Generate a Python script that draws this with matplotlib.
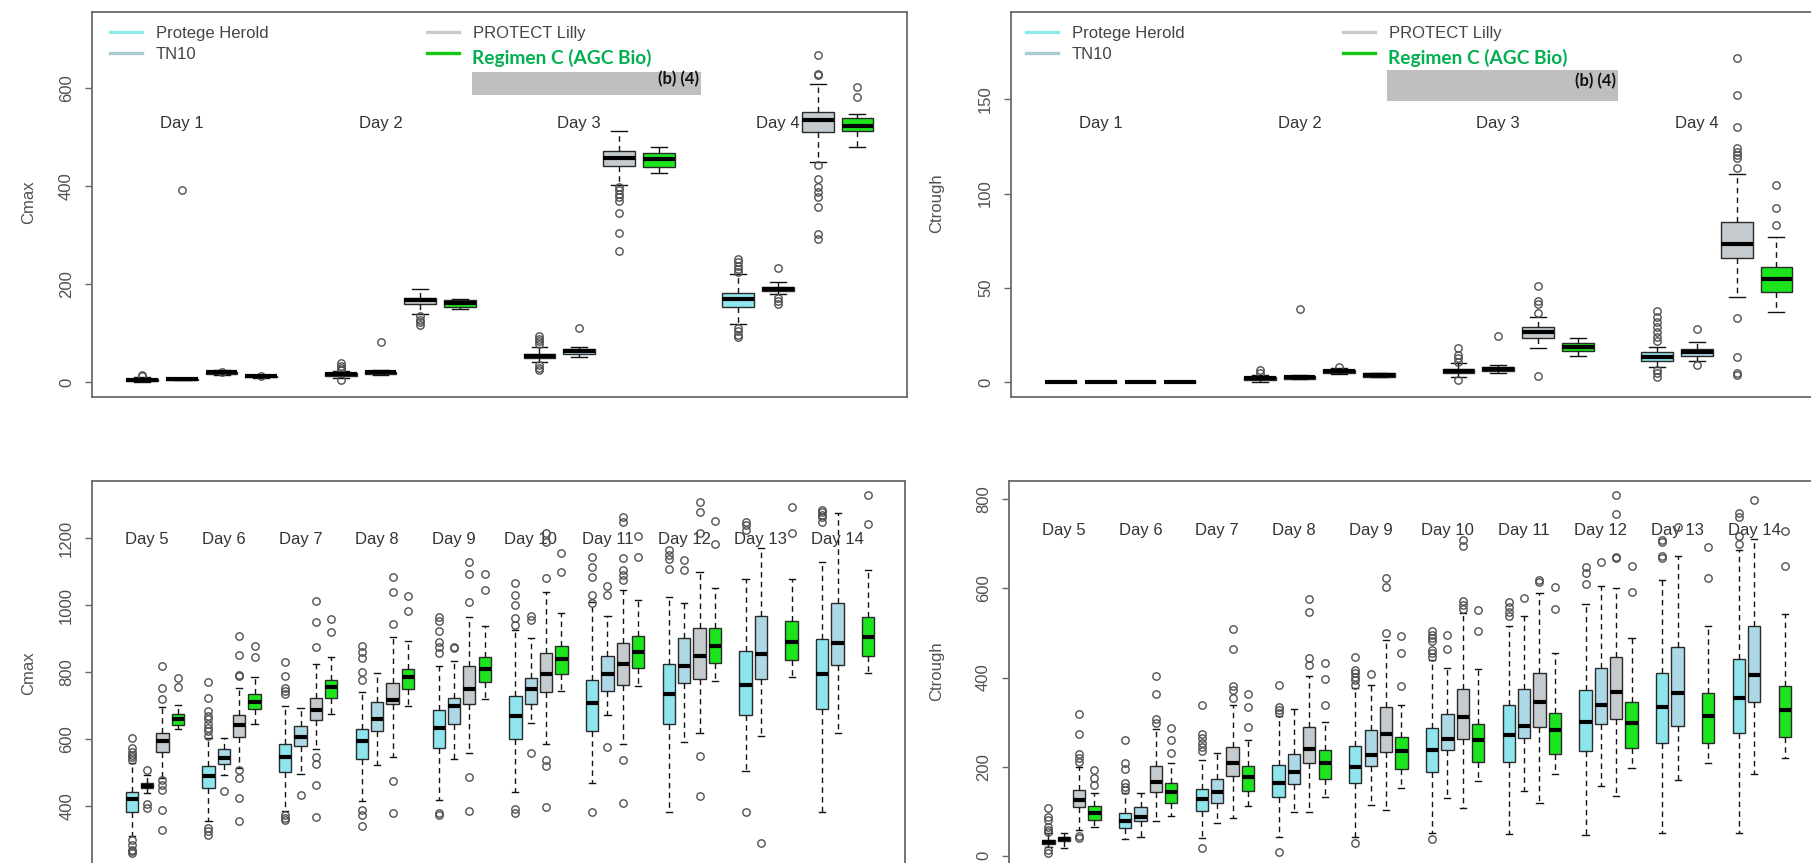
import matplotlib
matplotlib.use("Agg")
import matplotlib.pyplot as plt
from matplotlib.lines import Line2D
from matplotlib.patches import Rectangle

plt.rcParams['font.family'] = ['Liberation Sans', 'DejaVu Sans']

W, H = 1811, 863

# ---------------- data ----------------
groups = ["Protege Herold", "TN10", "PROTECT Lilly", "Regimen C (AGC Bio)"]
box_colors = ["#8ee5ee", "#add8e6", "#c4cacd", "#1de51d"]
legend_colors = ["#8fe9ea", "#aacbd3", "#cacaca", "#12c812"]

top_days = ["Day 1", "Day 2", "Day 3", "Day 4"]
bottom_days = ["Day 5", "Day 6", "Day 7", "Day 8", "Day 9",
               "Day 10", "Day 11", "Day 12", "Day 13", "Day 14"]

# each entry: (lower whisker, Q1, median, Q3, upper whisker); None = no box
# ---- Cmax, Days 1-4 ----
cmax_top_protege = [(1, 3, 5, 7, 10), (8, 13, 16, 18, 23), (41, 49, 54, 58, 73), (118, 154, 169, 183, 222)]
cmax_top_protege_out = [[12, 15], [39, 34, 29, 26, 5], [94, 89, 84, 78, 36, 30, 25],
                        [252, 245, 238, 231, 226, 111, 104, 97, 92]]
cmax_top_tn10 = [(4, 5, 6, 7, 8), (14, 16, 20, 22, 25), (51, 58, 63, 67, 73), (180, 186, 191, 195, 204)]
cmax_top_tn10_out = [[392], [83], [111], [234, 173, 166, 159]]
cmax_top_lilly = [(15, 17, 20, 22, 25), (140, 159, 167, 172, 190), (402, 441, 457, 472, 512), (449, 510, 536, 552, 609)]
cmax_top_lilly_out = [[21], [135, 128, 123, 116], [399, 392, 385, 378, 371, 345, 304, 267],
                      [668, 630, 627, 443, 414, 399, 389, 378, 358, 303, 293]]
cmax_top_regc = [(9, 10, 12, 13, 15), (150, 154, 161, 168, 171), (428, 440, 455, 467, 480), (481, 512, 524, 539, 547)]
cmax_top_regc_out = [[12], [], [], [603, 582]]

# ---- Ctrough, Days 1-4 ----
ctr_top_protege = [(0, 0, 0, 0, 0), (0.4, 1.2, 2.1, 3.0, 4.0), (3.0, 4.7, 6.0, 7.0, 10.0), (8.3, 11.5, 13.6, 15.9, 18.9)]
ctr_top_protege_out = [[], [6.5, 4.8], [18, 14.5, 12.7, 11, 1.2],
                       [37.8, 34.8, 32.2, 29.5, 26.8, 24.2, 21.9, 6.5, 4.7, 3.0]]
ctr_top_tn10 = [(0, 0, 0, 0, 0), (1.8, 2.0, 2.6, 3.4, 3.8), (4.7, 6.0, 7.0, 8.0, 9.2), (11.3, 14.1, 15.9, 17.6, 21.2)]
ctr_top_tn10_out = [[], [38.9], [24.5], [28.1, 9.2]]
ctr_top_lilly = [(0, 0, 0, 0, 0), (4.4, 5.1, 6.0, 6.5, 7.5), (18.4, 23.7, 26.8, 29.5, 34.8), (45.4, 65.7, 73.3, 85.1, 110.2)]
ctr_top_lilly_out = [[], [8.3], [51, 43, 41.3, 36.9, 3.5],
                     [172, 152.3, 135.5, 124, 122.3, 120.5, 118.7, 113.4, 33.9, 13.2, 4.7, 3.9]]
ctr_top_regc = [(0, 0, 0, 0, 0), (2.8, 3.0, 3.9, 4.8, 5.0), (14.1, 16.8, 18.9, 20.7, 23.3), (37.4, 47.7, 54.6, 61.3, 76.8)]
ctr_top_regc_out = [[], [], [], [104.6, 92.6, 83.4]]

# ---- Cmax, Days 5-14 ----
cmax_bot_protege = [(310, 383, 420, 443, 529), (354, 454, 489, 519, 604), (384, 501, 547, 584, 699),
                    (416, 539, 594, 631, 742), (419, 572, 632, 686, 819), (443, 599, 669, 729, 925),
                    (470, 625, 707, 777, 1011), (383, 644, 734, 823, 1025), (506, 672, 762, 863, 1077),
                    (383, 689, 793, 898, 1130)]
cmax_bot_protege_out = [[602, 572, 562, 552, 547, 537, 299, 284, 269, 264, 259],
                        [772, 724, 684, 669, 659, 644, 634, 624, 609, 334, 324, 314],
                        [829, 789, 754, 744, 734, 374, 364, 359],
                        [879, 859, 842, 799, 776, 389, 374, 339],
                        [966, 954, 924, 889, 874, 856, 379, 374],
                        [1065, 1030, 1000, 961, 941, 390, 378],
                        [1145, 1115, 1085, 1030, 1008, 383],
                        [1165, 1150, 1137, 1108],
                        [1250, 1240, 1225, 383],
                        [1286, 1279, 1271, 1264, 1250]]
cmax_bot_tn10 = [(439, 454, 461, 469, 492), (494, 524, 544, 569, 604), (496, 579, 607, 639, 694),
                 (521, 624, 659, 711, 797), (539, 644, 699, 724, 832), (649, 704, 750, 782, 901),
                 (672, 745, 793, 848, 968), (592, 767, 819, 901, 1006), (609, 780, 853, 969, 1170),
                 (617, 821, 888, 1006, 1275)]
cmax_bot_tn10_out = [[509, 407, 394], [444], [434], [], [876, 871], [969, 956, 559],
                     [1057, 1030, 577], [1135, 1105], [290], []]
cmax_bot_lilly = [(484, 562, 594, 619, 696), (514, 607, 642, 672, 754), (569, 656, 686, 722, 824),
                  (546, 706, 718, 769, 904), (559, 706, 751, 817, 966), (584, 741, 793, 858, 1040),
                  (585, 762, 823, 886, 1045), (617, 779, 848, 931, 1100), None, None]
cmax_bot_lilly_out = [[819, 754, 721, 479, 464, 449, 389, 329],
                      [907, 852, 792, 789, 509, 484, 424, 354],
                      [1014, 951, 874, 547, 524, 462, 366],
                      [1084, 1039, 944, 474, 379],
                      [1129, 1094, 1011, 486, 386],
                      [1215, 1190, 1080, 538, 518, 398],
                      [1264, 1250, 1142, 1105, 1090, 1075, 538, 408],
                      [1309, 1279, 1215, 550, 430], [], []]
cmax_bot_regc = [(629, 641, 659, 676, 701), (644, 689, 712, 734, 784), (674, 722, 756, 776, 846),
                 (698, 749, 786, 808, 894), (719, 772, 809, 846, 937), (745, 795, 839, 879, 978),
                 (759, 811, 861, 909, 1016), (775, 826, 879, 931, 1050), (785, 836, 891, 953, 1078),
                 (796, 849, 904, 966, 1105)]
cmax_bot_regc_out = [[782, 756], [879, 844], [959, 919], [1029, 984], [1094, 1044], [1155, 1098],
                     [1207, 1143], [1253, 1183], [1294, 1217], [1329, 1243]]

# ---- Ctrough, Days 5-14 ----
ctr_bot_protege = [(20, 26.5, 30, 35.5, 50), (37, 62, 78, 95, 140), (39, 101, 127, 150, 215),
                   (43, 131, 164, 204, 314), (43, 163, 200, 247, 376), (50, 187, 237, 286, 439),
                   (48, 211, 271, 338, 516), (47, 234, 301, 372, 564), (50, 254, 333, 410, 620),
                   (50, 276, 355, 442, 686)]
ctr_bot_protege_out = [[107, 88, 80, 65, 58, 54, 13, 7],
                       [260, 209, 194, 163, 155, 148],
                       [338, 273, 264, 252, 245, 235, 17],
                       [383, 333, 327, 321, 9],
                       [447, 417, 410, 402, 395, 383, 28],
                       [505, 496, 488, 481, 462, 454, 447, 37],
                       [570, 559, 548, 537],
                       [649, 634, 611],
                       [709, 705, 673, 668],
                       [769, 761, 718, 700]]
ctr_bot_tn10 = [(18, 34, 38, 43, 52), (43, 79, 88, 109, 140), (74, 119, 144, 172, 230),
                (99, 161, 187, 229, 329), (114, 202, 225, 282, 383), (129, 237, 261, 318, 421),
                (145, 265, 291, 374, 537), (157, 295, 338, 421, 606), (170, 292, 366, 469, 673),
                (183, 346, 406, 516, 712)]
ctr_bot_tn10_out = [[], [], [], [], [408], [496, 463], [579], [659], [737], [798]]
ctr_bot_lilly = [(58, 109, 125, 148, 200), (77, 144, 166, 202, 284), (84, 179, 208, 245, 338),
                 (99, 208, 239, 288, 404), (103, 232, 273, 333, 484), (107, 261, 312, 374, 544),
                 (118, 288, 344, 411, 589), (134, 307, 367, 445, 600), None, None]
ctr_bot_lilly_out = [[318, 273, 228, 219, 211, 45, 39], [404, 362, 306, 299],
                     [508, 464, 381, 372, 355], [576, 546, 443, 428], [623, 604, 501],
                     [709, 695, 572, 563, 553], [620, 615], [810, 767, 671, 668], [], []]
ctr_bot_regc = [(64, 80, 95, 112, 140), (89, 119, 142, 163, 208), (112, 146, 176, 202, 260),
                (131, 172, 208, 237, 301), (151, 194, 234, 267, 338), (168, 211, 260, 295, 419),
                (184, 229, 282, 320, 454), (198, 241, 299, 346, 488), (208, 254, 314, 365, 516),
                (219, 267, 326, 381, 542)]
ctr_bot_regc_out = [[193, 174, 159], [286, 260, 230], [363, 333, 290], [432, 397, 338],
                    [494, 454, 381], [552, 505], [604, 553], [650, 591], [692, 624], [729, 650]]


# ---------------- helpers ----------------
def ax_rect(x0, y0, x1, y1):
    return [x0 / W, 1 - y1 / H, (x1 - x0) / W, (y1 - y0) / H]


def fx(x):
    return x / W


def fy(y):
    return 1 - y / H


def draw_panel(ax, days, series, outs, xlim, ylim, yticks, day_y, ylabel, ylab_x, ylab_y):
    for g, (vals, fl) in enumerate(zip(series, outs)):
        stats, pos = [], []
        for d, v in enumerate(vals):
            if v is None:
                continue
            lo, q1, med, q3, hi = v
            stats.append(dict(whislo=lo, q1=q1, med=med, q3=q3, whishi=hi, fliers=fl[d]))
            pos.append(5 * d + g + 1)
        ax.bxp(stats, positions=pos, widths=0.8, capwidths=0.4, patch_artist=True,
               manage_ticks=False,
               boxprops=dict(edgecolor="#2a2a2a", linewidth=1.0, facecolor=box_colors[g]),
               medianprops=dict(color="black", linewidth=3, solid_capstyle="butt"),
               whiskerprops=dict(color="#111111", linewidth=1.0, linestyle=(0, (4, 3))),
               capprops=dict(color="#111111", linewidth=1.0),
               flierprops=dict(marker="o", markerfacecolor="none", markeredgecolor="#505050",
                               markersize=5.3, markeredgewidth=1.0))
    for d, lab in enumerate(days):
        ax.text(5 * d + 2, day_y, lab, ha="center", va="center", fontsize=12, color="#333333",
                zorder=1)
    ax.set_xlim(*xlim)
    ax.set_ylim(*ylim)
    ax.set_xticks([])
    ax.set_yticks(yticks)
    ax.set_yticklabels([str(t) for t in yticks], rotation=90, va="center")
    ax.tick_params(axis="y", direction="out", length=5, width=1, colors="#666666",
                   labelcolor="#505050", labelsize=12, pad=8)
    for s in ax.spines.values():
        s.set_color("#6a6a6a")
        s.set_linewidth(1.3)
    ax.figure.text(fx(ylab_x), fy(ylab_y), ylabel, rotation=90, ha="center", va="center",
                   fontsize=12, color="#505050")


def draw_legend(fig, x0, rect_x0, rect_x1, rect_y0, rect_y1):
    col2 = x0 + 317
    for i, (name, y) in enumerate([(groups[0], 32.5), (groups[1], 53.5)]):
        fig.add_artist(Line2D([fx(x0), fx(x0 + 32)], [fy(y), fy(y)], color=legend_colors[i],
                              linewidth=2.4, transform=fig.transFigure))
        fig.text(fx(x0 + 46), fy(y + 1), name, ha="left", va="center", fontsize=12,
                 color="#444444")
    fig.add_artist(Line2D([fx(col2), fx(col2 + 32)], [fy(32.5), fy(32.5)], color=legend_colors[2],
                          linewidth=2.4, transform=fig.transFigure))
    fig.text(fx(col2 + 46), fy(33.5), groups[2], ha="left", va="center", fontsize=12,
             color="#444444")
    fig.add_artist(Line2D([fx(col2), fx(col2 + 32)], [fy(53.5), fy(53.5)], color=legend_colors[3],
                          linewidth=2.4, transform=fig.transFigure))
    fig.text(fx(col2 + 45), fy(58), groups[3], ha="left", va="center", fontsize=13.8,
             color="#00b050", fontweight="bold", family=["Lato", "DejaVu Sans"])
    fig.add_artist(Rectangle((fx(rect_x0), fy(rect_y1)), fx(rect_x1) - fx(rect_x0),
                             fy(rect_y0) - fy(rect_y1), transform=fig.transFigure,
                             facecolor="#bfbfbf", edgecolor="none"))
    fig.text(fx(rect_x1 - 2), fy((rect_y0 + rect_y1) / 2 - 4), "(b) (4)", ha="right", va="center",
             fontsize=12, color="#111111", fontweight="bold", family=["Lato", "DejaVu Sans"])


# ---------------- figure ----------------
fig = plt.figure(figsize=(W / 100, H / 100), dpi=100)
fig.patch.set_facecolor("white")

ax_tl = fig.add_axes(ax_rect(92, 11.7, 907.5, 396.7))
draw_panel(ax_tl, top_days,
           [cmax_top_protege, cmax_top_tn10, cmax_top_lilly, cmax_top_regc],
           [cmax_top_protege_out, cmax_top_tn10_out, cmax_top_lilly_out, cmax_top_regc_out],
           (-0.26, 20.26), (-29.4, 756.3), [0, 200, 400, 600], 529, "Cmax", 29, 202)

ax_tr = fig.add_axes(ax_rect(1011, 11.7, 1826.5, 396.7))
draw_panel(ax_tr, top_days,
           [ctr_top_protege, ctr_top_tn10, ctr_top_lilly, ctr_top_regc],
           [ctr_top_protege_out, ctr_top_tn10_out, ctr_top_lilly_out, ctr_top_regc_out],
           (-0.26, 20.26), (-7.63, 196.4), [0, 50, 100, 150], 137.4, "Ctrough", 937, 203)

ax_bl = fig.add_axes(ax_rect(92.3, 480.7, 905, 870.6))
draw_panel(ax_bl, bottom_days,
           [cmax_bot_protege, cmax_bot_tn10, cmax_bot_lilly, cmax_bot_regc],
           [cmax_bot_protege_out, cmax_bot_tn10_out, cmax_bot_lilly_out, cmax_bot_regc_out],
           (-1.57, 51.39), (206.9, 1372.1), [400, 600, 800, 1000, 1200], 1195, "Cmax", 29, 673)

ax_br = fig.add_axes(ax_rect(1009, 481, 1821.7, 867.7))
draw_panel(ax_br, bottom_days,
           [ctr_bot_protege, ctr_bot_tn10, ctr_bot_lilly, ctr_bot_regc],
           [ctr_bot_protege_out, ctr_bot_tn10_out, ctr_bot_lilly_out, ctr_bot_regc_out],
           (-1.57, 51.39), (-26.9, 841.1), [0, 200, 400, 600, 800], 729, "Ctrough", 937, 671)

draw_legend(fig, 110, 472, 701, 71.7, 95)
draw_legend(fig, 1026, 1387, 1618, 70, 100.7)

fig.savefig("out.png", dpi=100, facecolor="white")
